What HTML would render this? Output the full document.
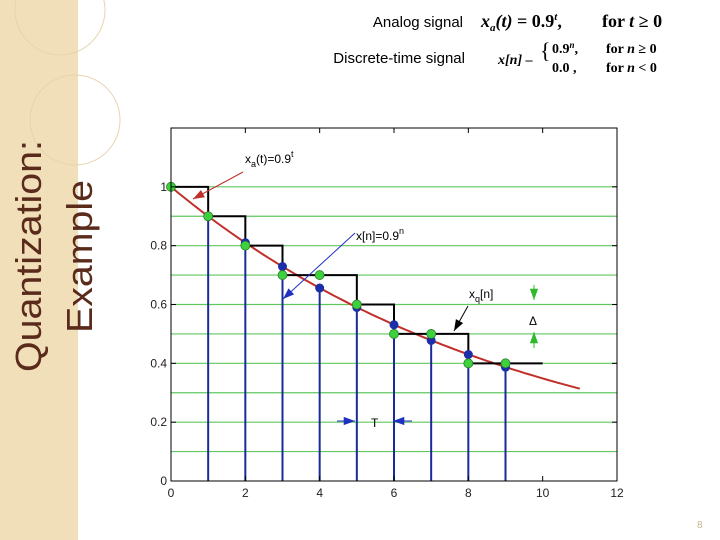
<!DOCTYPE html>
<html><head><meta charset="utf-8"><style>
body{margin:0;width:720px;height:540px;background:#fff;overflow:hidden;font-family:"Liberation Sans",sans-serif}
svg{position:absolute;left:0;top:0}
</style></head><body>
<svg id="s" width="720" height="540">
<rect x="0" y="0" width="78" height="540" fill="#f1dfba"/>
<circle cx="60" cy="10" r="45" fill="none" stroke="#e6d4ae"/>
<circle cx="75" cy="120" r="45" fill="none" stroke="#e6d4ae"/>
<text transform="translate(41,372) rotate(-90)" font-size="36" textLength="232" lengthAdjust="spacingAndGlyphs" fill="#5a2a1a">Quantization:</text>
<text transform="translate(92,333) rotate(-90)" font-size="36" textLength="153" lengthAdjust="spacingAndGlyphs" fill="#5a2a1a">Example</text>
<text x="463" y="27" font-size="15" text-anchor="end">Analog signal</text>
<text x="481" y="27" font-size="18" font-family="Liberation Serif,serif" font-weight="bold"><tspan font-style="italic">x<tspan font-size="11" dy="4">a</tspan><tspan dy="-4">(t)</tspan></tspan> = 0.9<tspan font-size="11" dy="-7" font-style="italic">t</tspan><tspan dy="7">,</tspan><tspan x="602">for <tspan font-style="italic">t</tspan> ≥ 0</tspan></text>
<text x="465" y="63" font-size="15" text-anchor="end">Discrete-time signal</text>
<g font-family="Liberation Serif,serif" font-weight="bold" font-size="14">
<text x="498" y="64" font-style="italic">x[n] –</text>
<text x="540" y="58" font-size="22" font-weight="normal">{</text>
<text x="552" y="53">0.9<tspan font-size="9" dy="-5" font-style="italic">n</tspan><tspan dy="5">,</tspan></text>
<text x="552" y="72">0.0 ,</text>
<text x="606" y="53">for <tspan font-style="italic">n</tspan> ≥ 0</text>
<text x="606" y="72">for <tspan font-style="italic">n</tspan> &lt; 0</text>
</g>
<g id="chart"></g>
<text x="697" y="528" font-size="10" fill="#c9b48a">8</text>
</svg>
<script>
const xTicks=[0,2,4,6,8,10,12];
const yTicks=[0,0.2,0.4,0.6,0.8,1];
const nVals=[0,1,2,3,4,5,6,7,8,9];
const xVals=[1,0.9,0.81,0.729,0.656,0.590,0.531,0.478,0.430,0.387];
const xqVals=[1,0.9,0.8,0.7,0.7,0.6,0.5,0.5,0.4,0.4];
const gridLevels=[0.1,0.2,0.3,0.4,0.5,0.6,0.7,0.8,0.9,1.0];
const L=171,R=617,T=128,B=481;
const X=v=>L+(v/12)*(R-L);
const Y=v=>B-(v/1.2)*(B-T);
const g=document.getElementById('chart');
function el(t,a,txt){const e=document.createElementNS('http://www.w3.org/2000/svg',t);for(const k in a)e.setAttribute(k,a[k]);if(txt!==undefined)e.textContent=txt;g.appendChild(e);return e;}
let e;
e=el('rect',{x:L,y:T,width:R-L,height:B-T,fill:'#fff',stroke:'none'});


gridLevels.forEach(v=>{e=el('line',{x1:L,x2:R,y1:Y(v),y2:Y(v),stroke:'#5fc85f','stroke-width':1.2});

});
let d='';for(let i=0;i<=110;i++){const t=i/10;d+=(i?'L':'M')+X(t).toFixed(1)+' '+Y(Math.pow(0.9,t)).toFixed(1);}
e=el('path',{d:d,fill:'none',stroke:'#c0302a','stroke-width':2});


nVals.forEach((n,i)=>{if(n===0)return;e=el('line',{x1:X(n),x2:X(n),y1:B,y2:Y(xVals[i]),stroke:'#1a2a9a','stroke-width':2});

});
let s='';nVals.forEach((n,i)=>{s+=(i?'L':'M')+X(n)+' '+Y(xqVals[i])+'L'+X(n+1)+' '+Y(xqVals[i]);});
e=el('path',{d:s,fill:'none',stroke:'#000','stroke-width':2});


nVals.forEach((n,i)=>{e=el('circle',{cx:X(n),cy:Y(xVals[i]),r:4.5,fill:'#1b2fa8'});

});
nVals.forEach((n,i)=>{e=el('circle',{cx:X(n),cy:Y(xqVals[i]),r:4.5,fill:'#3dd23d',stroke:'#2a7a2a','stroke-width':0.8});

});
e=el('rect',{x:L,y:T,width:R-L,height:B-T,fill:'none',stroke:'#000','stroke-width':1});


xTicks.forEach(v=>{el('line',{x1:X(v),x2:X(v),y1:B,y2:B-5,stroke:'#000'});el('line',{x1:X(v),x2:X(v),y1:T,y2:T+5,stroke:'#000'});
e=el('text',{x:X(v),y:B+16,'font-size':12,'text-anchor':'middle',fill:'#222'},String(v));

});
yTicks.forEach(v=>{el('line',{x1:L,x2:L+5,y1:Y(v),y2:Y(v),stroke:'#000'});el('line',{x1:R,x2:R-5,y1:Y(v),y2:Y(v),stroke:'#000'});
e=el('text',{x:L-4,y:Y(v)+4,'font-size':12,'text-anchor':'end',fill:'#222'},String(v));

});
function ann(name,x1,y1,x2,y2,col){e=el('line',{x1:x1,y1:y1,x2:x2,y2:y2,stroke:col,'stroke-width':1});


const a=Math.atan2(y2-y1,x2-x1),h=12;
el('polygon',{points:`${x2},${y2} ${x2-h*Math.cos(a-0.35)},${y2-h*Math.sin(a-0.35)} ${x2-h*Math.cos(a+0.35)},${y2-h*Math.sin(a+0.35)}`,fill:col});}
ann('xa-arrow',243,172,193,199,'#c0302a');
ann('xn-arrow',355,233,283,299,'#2030c0');
ann('xq-arrow',468,306,454,331,'#000');
ann('delta-arrow-top',534,285,534,300,'#2db82d');
ann('delta-arrow-bottom',534,348,534,332,'#2db82d');
ann('t-arrow-left',337,421,355,421,'#2030c0');
ann('t-arrow-right',412,421,393,421,'#2030c0');
e=el('text',{x:245,y:163,'font-size':12},'');e.innerHTML='x<tspan font-size="9" dy="4">a</tspan><tspan dy="-4">(t)=0.9</tspan><tspan font-size="9" dy="-6">t</tspan>';


e=el('text',{x:356,y:240,'font-size':12},'');e.innerHTML='x[n]=0.9<tspan font-size="9" dy="-6">n</tspan>';


e=el('text',{x:469,y:298,'font-size':12},'');e.innerHTML='x<tspan font-size="9" dy="4">q</tspan><tspan dy="-4">[n]</tspan>';


e=el('text',{x:529,y:325,'font-size':12},'Δ');


e=el('text',{x:371,y:427,'font-size':12},'T');


</script>
</body></html>
